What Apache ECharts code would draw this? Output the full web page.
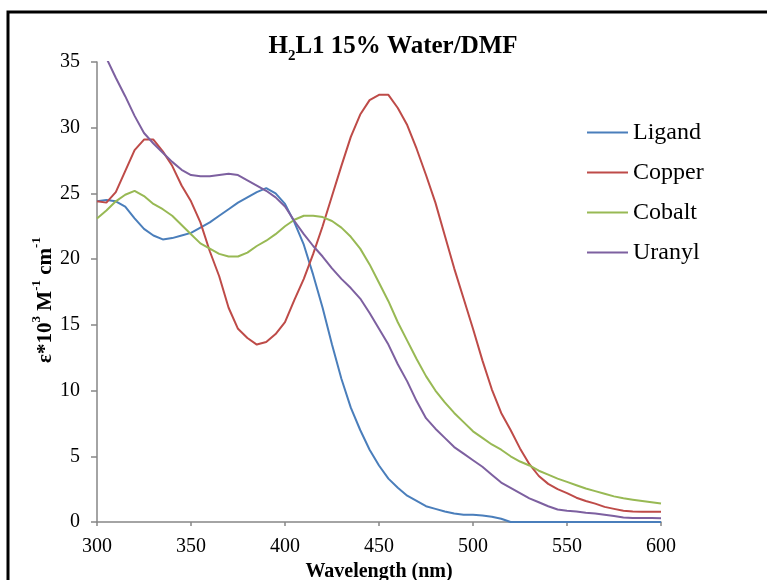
<!DOCTYPE html>
<html>
<head>
<meta charset="utf-8">
<script src="https://cdn.jsdelivr.net/npm/echarts@6/dist/echarts.min.js"></script>
<style>
html,body{margin:0;padding:0;background:#fff;}
#chart{width:767px;height:580px;}
</style>
</head>
<body>
<div id="chart"></div>
<script>
// Wavelength (nm), 5 nm steps from 300 to 600
const wavelengths = [300,305,310,315,320,325,330,335,340,345,350,355,360,365,370,375,380,385,390,395,400,405,410,415,420,425,430,435,440,445,450,455,460,465,470,475,480,485,490,495,500,505,510,515,520,525,530,535,540,545,550,555,560,565,570,575,580,585,590,595,600];

const ligand = [24.4,24.5,24.4,24.0,23.1,22.3,21.8,21.5,21.6,21.8,22.0,22.4,22.8,23.3,23.8,24.3,24.7,25.1,25.4,25.0,24.2,22.8,21.1,18.8,16.3,13.5,10.9,8.7,7.0,5.5,4.3,3.3,2.6,2.0,1.6,1.2,1.0,0.8,0.65,0.55,0.55,0.5,0.4,0.25,0.0,0,0,0,0,0,0,0,0,0,0,0,0,0,0,0,0];

const copper = [24.4,24.3,25.1,26.7,28.3,29.1,29.1,28.2,27.1,25.6,24.4,22.8,20.6,18.7,16.3,14.7,14.0,13.5,13.7,14.3,15.2,16.9,18.5,20.4,22.5,24.8,27.1,29.3,31.0,32.1,32.5,32.5,31.5,30.2,28.4,26.4,24.3,21.8,19.3,17.0,14.7,12.3,10.1,8.3,7.0,5.6,4.4,3.5,2.9,2.5,2.2,1.85,1.6,1.4,1.15,1.0,0.85,0.8,0.78,0.78,0.78];

const cobalt = [23.1,23.7,24.4,24.9,25.2,24.8,24.2,23.8,23.3,22.6,21.9,21.2,20.8,20.4,20.2,20.2,20.5,21.0,21.4,21.9,22.5,23.0,23.3,23.3,23.2,22.9,22.4,21.7,20.8,19.6,18.2,16.8,15.2,13.8,12.4,11.1,10.0,9.1,8.3,7.6,6.9,6.4,5.9,5.5,5.0,4.6,4.3,3.9,3.6,3.3,3.05,2.8,2.55,2.35,2.15,1.95,1.8,1.7,1.6,1.5,1.4];

const uranyl = [37.0,35.3,33.8,32.4,30.9,29.6,28.8,28.1,27.4,26.8,26.4,26.3,26.3,26.4,26.5,26.4,26.0,25.6,25.2,24.7,24.0,22.9,21.9,21.0,20.2,19.3,18.5,17.8,17.0,15.9,14.7,13.5,12.0,10.7,9.2,7.9,7.1,6.4,5.7,5.2,4.7,4.2,3.6,3.0,2.6,2.2,1.8,1.5,1.2,0.95,0.85,0.8,0.7,0.65,0.55,0.45,0.35,0.3,0.3,0.3,0.28];

const seriesNames = ['Ligand','Copper','Cobalt','Uranyl'];
const seriesColors = ['#4A7EBB','#BE4B48','#98B954','#7D60A0'];
const seriesValues = [ligand, copper, cobalt, uranyl];

const xTicks = [300,350,400,450,500,550,600];
const yTicks = [0,5,10,15,20,25,30,35];

const serif = '"Liberation Serif", "Times New Roman", serif';

const chart = echarts.init(document.getElementById('chart'), null, {renderer:'canvas'});

const series = seriesNames.map((name, i) => ({
  name: name,
  type: 'line',
  data: wavelengths.map((w, j) => [w, seriesValues[i][j]]),
  symbol: 'none',
  smooth: false,
  clip: true,
  lineStyle: {color: seriesColors[i], width: 2},
  itemStyle: {color: seriesColors[i]},
  animation: false
}));

chart.setOption({
  animation: false,
  backgroundColor: '#ffffff',
  grid: {left: 97, right: 106, top: 62, bottom: 58, containLabel: false, outerBoundsMode: 'none'},
  graphic: [
    {
      type: 'rect',
      shape: {x: 8, y: 12, width: 820, height: 640},
      style: {fill: 'none', stroke: '#000', lineWidth: 3},
      silent: true
    },
    {
      type: 'text',
      x: 393, y: 45,
      style: {
        text: '{b|H}{s|2}{b|L1 15% Water/DMF}',
        align: 'center',
        verticalAlign: 'middle',
        rich: {
          b: {fontFamily: serif, fontWeight: 'bold', fontSize: 25, fill: '#000', lineHeight: 28, verticalAlign: 'bottom'},
          s: {fontFamily: serif, fontWeight: 'bold', fontSize: 15, fill: '#000', lineHeight: 28, verticalAlign: 'bottom', padding: [0,0,-5,0]}
        }
      }
    },
    {
      type: 'text',
      x: 43, y: 300,
      rotation: Math.PI / 2,
      style: {
        text: '{m|ε*10}{p|3}{m| M}{p|-1}{m| cm}{p|-1}',
        align: 'center',
        verticalAlign: 'middle',
        rich: {
          m: {fontFamily: serif, fontWeight: 'bold', fontSize: 21, fill: '#000', lineHeight: 26, verticalAlign: 'bottom'},
          p: {fontFamily: serif, fontWeight: 'bold', fontSize: 13, fill: '#000', lineHeight: 26, verticalAlign: 'top'}
        }
      }
    }
  ],
  legend: {
    orient: 'vertical',
    left: 582,
    top: 115,
    icon: 'rect',
    itemWidth: 41,
    itemHeight: 2,
    itemGap: 15,
    data: seriesNames,
    textStyle: {fontFamily: serif, fontSize: 24, color: '#000', lineHeight: 25}
  },
  xAxis: {
    type: 'value',
    min: 300, max: 600, interval: 50,
    name: 'Wavelength (nm)',
    nameLocation: 'middle',
    nameGap: 39,
    nameTextStyle: {fontFamily: serif, fontWeight: 'bold', fontSize: 20, color: '#000'},
    axisLine: {show: true, onZero: false, lineStyle: {color: '#868686', width: 1.5}},
    axisTick: {show: true, length: 4, lineStyle: {color: '#868686', width: 1.5}},
    splitLine: {show: false},
    axisLabel: {
      fontFamily: serif, fontSize: 20, color: '#000', margin: 15,
      formatter: v => xTicks.includes(v) ? String(v) : ''
    }
  },
  yAxis: {
    type: 'value',
    min: 0, max: 35, interval: 5,
    axisLine: {show: true, lineStyle: {color: '#868686', width: 1.5}},
    axisTick: {show: true, length: 6, lineStyle: {color: '#868686', width: 1.5}},
    splitLine: {show: false},
    axisLabel: {
      fontFamily: serif, fontSize: 20, color: '#000', margin: 17,
      formatter: v => yTicks.includes(v) ? String(v) : ''
    }
  },
  series: series
});
</script>
</body>
</html>
